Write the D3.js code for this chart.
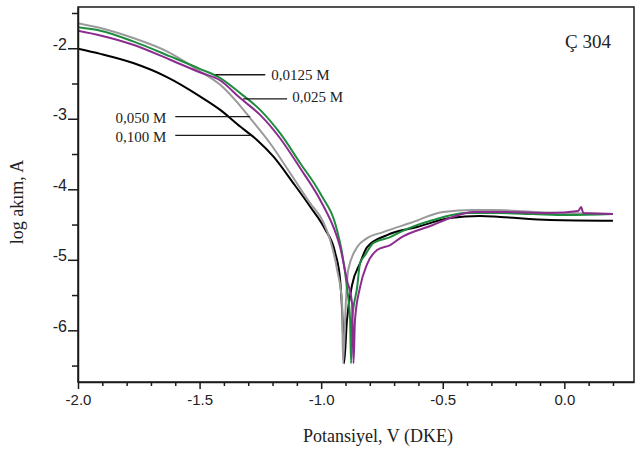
<!DOCTYPE html>
<html>
<head>
<meta charset="utf-8">
<script src="https://cdn.jsdelivr.net/npm/d3@7"></script>
<style>
html,body{margin:0;padding:0;background:#fff;}
svg{display:block;}
</style>
</head>
<body>
<svg id="chart" width="635" height="450"></svg>
<script>
// ---- data (potential V vs DKE, log current A) ----
const seriesNames = ["0,0125 M", "0,025 M", "0,050 M", "0,100 M"];

const v0125 = [-2.000,-1.908,-1.773,-1.621,-1.497,-1.415,-1.333,-1.251,-1.169,-1.086,-1.004,-0.935,-0.914,-0.894,-0.881,-0.877,-0.873,-0.852,-0.840,-0.819,-0.786,-0.716,-0.675,-0.540,-0.400,-0.264,-0.128,0.012,0.200];
const i0125 = [-1.702,-1.751,-1.903,-2.116,-2.295,-2.423,-2.636,-2.874,-3.205,-3.631,-4.057,-4.578,-4.905,-5.388,-5.857,-6.467,-5.857,-5.388,-5.047,-4.933,-4.763,-4.678,-4.607,-4.436,-4.337,-4.337,-4.351,-4.365,-4.351];

const v025 = [-2.000,-1.908,-1.773,-1.621,-1.497,-1.415,-1.333,-1.251,-1.169,-1.086,-1.004,-0.935,-0.922,-0.894,-0.873,-0.867,-0.861,-0.840,-0.811,-0.770,-0.716,-0.675,-0.540,-0.471,-0.375,-0.264,-0.058,0.057,0.069,0.078,0.200];
const i025 = [-1.751,-1.818,-1.950,-2.163,-2.344,-2.457,-2.707,-2.945,-3.276,-3.702,-4.152,-4.673,-4.820,-5.288,-5.615,-6.467,-5.857,-5.388,-5.060,-4.862,-4.791,-4.692,-4.507,-4.408,-4.322,-4.322,-4.337,-4.308,-4.251,-4.337,-4.351];

const v050 = [-2.000,-1.908,-1.773,-1.634,-1.497,-1.415,-1.347,-1.292,-1.210,-1.127,-1.045,-0.992,-0.963,-0.934,-0.914,-0.910,-0.898,-0.889,-0.852,-0.811,-0.745,-0.634,-0.499,-0.375,-0.293,-0.058,0.200];
const i050 = [-1.645,-1.713,-1.855,-2.045,-2.330,-2.518,-2.760,-2.991,-3.347,-3.773,-4.199,-4.460,-4.720,-5.146,-5.615,-6.467,-5.570,-5.146,-4.820,-4.692,-4.607,-4.479,-4.322,-4.294,-4.294,-4.330,-4.351];

const v100 = [-2.000,-1.908,-1.773,-1.634,-1.497,-1.415,-1.333,-1.264,-1.196,-1.114,-1.045,-0.985,-0.942,-0.922,-0.912,-0.906,-0.894,-0.873,-0.840,-0.811,-0.729,-0.605,-0.471,-0.346,-0.264,-0.058,0.200];
const i100 = [-2.007,-2.080,-2.210,-2.409,-2.685,-2.874,-3.111,-3.300,-3.537,-3.915,-4.247,-4.560,-4.905,-5.288,-5.857,-6.467,-5.857,-5.360,-5.047,-4.820,-4.649,-4.535,-4.408,-4.379,-4.393,-4.436,-4.446];

const xTicksMajor = [-2.0, -1.5, -1.0, -0.5, 0.0];
const xTicksMinor = [-1.9,-1.8,-1.7,-1.6,-1.4,-1.3,-1.2,-1.1,-0.9,-0.8,-0.7,-0.6,-0.4,-0.3,-0.2,-0.1,0.1,0.2];
const yTicksMajor = [-2, -3, -4, -5, -6];
const yTicksMinor = [-1.5, -2.5, -3.5, -4.5, -5.5, -6.5];

// label leader lines: [x1, x2, y] in data units, and label anchor
const labelLines = [
  {name: "0,0125 M", x1: -1.435, x2: -1.230, y: -2.376, tx: -1.205, ty: -2.376, anchor: "start"},
  {name: "0,025 M",  x1: -1.321, x2: -1.140, y: -2.717, tx: -1.119, ty: -2.690, anchor: "start"},
  {name: "0,050 M",  x1: -1.600, x2: -1.292, y: -2.969, tx: -1.637, ty: -2.980, anchor: "end"},
  {name: "0,100 M",  x1: -1.600, x2: -1.288, y: -3.236, tx: -1.637, ty: -3.250, anchor: "end"}
];

// ---- drawing ----
const svg = d3.select("#chart");
const L = 78, R = 634, T = 7, B = 382;
const x = d3.scaleLinear().domain([-2.0, 0.2865]).range([L, R]);
const y = d3.scaleLinear().domain([-6.733, -1.415]).range([B, T]);

const series = [
  {name: "0,100 M", v: v100, i: i100, color: "#000000"},
  {name: "0,050 M", v: v050, i: i050, color: "#9a9a9a"},
  {name: "0,0125 M", v: v0125, i: i0125, color: "#1e8c3e"},
  {name: "0,025 M", v: v025, i: i025, color: "#8b2c8e"}
];

const line = d3.line().curve(d3.curveMonotoneX).x(d => x(d[0])).y(d => y(d[1]));

svg.append("clipPath").attr("id", "clip").append("rect")
  .attr("x", L).attr("y", T).attr("width", R - L).attr("height", B - T);

const gLines = svg.append("g").attr("clip-path", "url(#clip)");
series.forEach(s => {
  gLines.append("path")
    .datum(s.v.map((v, k) => [v, s.i[k]]))
    .attr("d", line)
    .attr("fill", "none")
    .attr("stroke", s.color)
    .attr("stroke-width", 2)
    .attr("stroke-linejoin", "round");
});

// frame
svg.append("rect")
  .attr("x", L).attr("y", T).attr("width", R - L).attr("height", B - T)
  .attr("fill", "none").attr("stroke", "#1a1a1a").attr("stroke-width", 1.5);

const tickFont = "'Liberation Sans', Arial, sans-serif";
const serif = "'Liberation Serif', 'Times New Roman', serif";

// x axis
const gx = svg.append("g").attr("transform", `translate(0,${B})`)
  .call(d3.axisBottom(x).tickValues(xTicksMajor).tickSize(7).tickSizeOuter(0).tickPadding(5)
    .tickFormat(d => d.toFixed(1)));
const gxm = svg.append("g").attr("transform", `translate(0,${B})`)
  .call(d3.axisBottom(x).tickValues(xTicksMinor).tickSize(4).tickSizeOuter(0).tickFormat(""));
gxm.select(".domain").remove();

// y axis
const gy = svg.append("g").attr("transform", `translate(${L},0)`)
  .call(d3.axisLeft(y).tickValues(yTicksMajor).tickSize(10).tickSizeOuter(0).tickPadding(1)
    .tickFormat(d => String(d)));
const gym = svg.append("g").attr("transform", `translate(${L},0)`)
  .call(d3.axisLeft(y).tickValues(yTicksMinor).tickSize(6).tickSizeOuter(0).tickFormat(""));
gym.select(".domain").remove();

[gx, gxm, gy, gym].forEach(g => {
  g.selectAll("line").attr("stroke", "#1a1a1a").attr("stroke-width", 1.5);
  g.selectAll(".domain").attr("stroke", "#1a1a1a").attr("stroke-width", 1.5);
  g.selectAll("text").attr("fill", "#222").style("font-family", tickFont).style("font-size", "15px");
});
gy.selectAll("text").attr("dy", "0.05em").style("font-size", "16px");

// axis titles
svg.append("text")
  .attr("x", (L + R) / 2 + 22).attr("y", 442)
  .attr("text-anchor", "middle")
  .style("font-family", serif).style("font-size", "18px").attr("fill", "#222")
  .text("Potansiyel, V (DKE)");

svg.append("text")
  .attr("transform", "translate(23,202) rotate(-90)")
  .attr("text-anchor", "middle")
  .style("font-family", serif).style("font-size", "18px").attr("fill", "#222")
  .text("log akım, A");

// sample label
svg.append("text")
  .attr("x", 588).attr("y", 48)
  .attr("text-anchor", "middle")
  .style("font-family", serif).style("font-size", "19px").attr("fill", "#222")
  .text("Ç 304");

// concentration labels with leader lines
const gl = svg.append("g");
labelLines.forEach(d => {
  gl.append("line")
    .attr("x1", x(d.x1)).attr("x2", x(d.x2))
    .attr("y1", y(d.y)).attr("y2", y(d.y))
    .attr("stroke", "#1a1a1a").attr("stroke-width", 1.3);
  gl.append("text")
    .attr("x", x(d.tx)).attr("y", y(d.ty))
    .attr("dy", "0.35em")
    .attr("text-anchor", d.anchor)
    .style("font-family", serif).style("font-size", "15px").attr("fill", "#222")
    .text(d.name);
});
</script>
</body>
</html>
